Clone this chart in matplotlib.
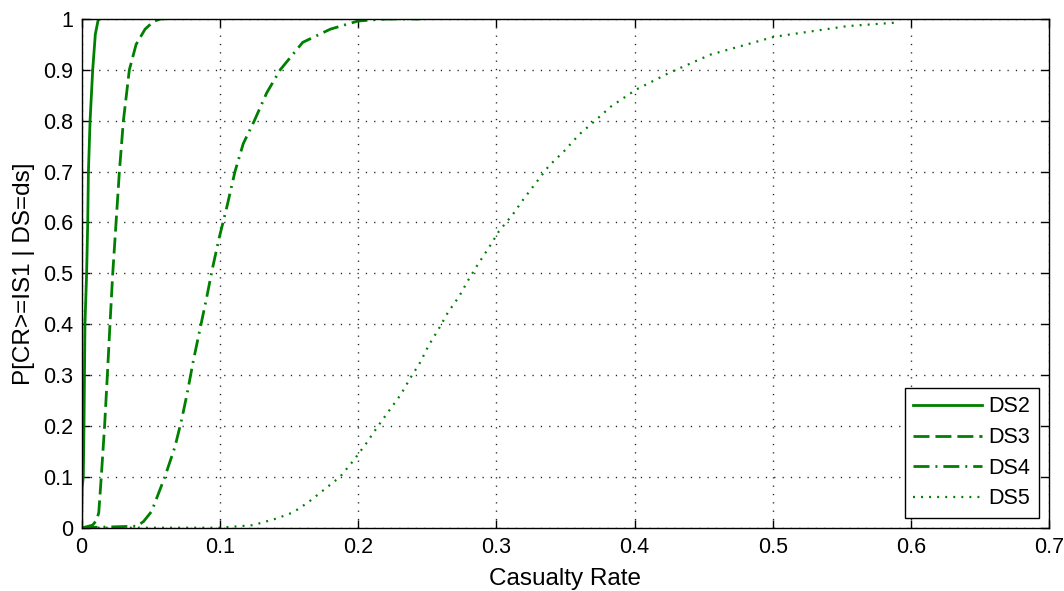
import matplotlib
matplotlib.use("Agg")
import matplotlib.pyplot as plt

plt.rcParams['font.family'] = ['Liberation Sans', 'DejaVu Sans']
plt.rcParams['lines.scale_dashes'] = False

# Empirical CDFs of casualty rate for each damage state
ds2_x = [0, 0.0005, 0.0013, 0.0018, 0.0025, 0.0037, 0.0045, 0.0050, 0.0062, 0.0081, 0.0100, 0.0122, 0.0130]
ds2_y = [0, 0.08, 0.10, 0.20, 0.40, 0.50, 0.60, 0.70, 0.80, 0.90, 0.97, 1.00, 1.00]

ds3_x = [0, 0.001, 0.008, 0.011, 0.0125, 0.0143, 0.0167, 0.0187, 0.0206, 0.0226, 0.0250,
         0.0274, 0.0303, 0.0346, 0.0395, 0.0460, 0.0520, 0.0570, 0.0600]
ds3_y = [0, 0.0, 0.005, 0.015, 0.03, 0.10, 0.20, 0.30, 0.40, 0.50, 0.60,
         0.70, 0.80, 0.90, 0.95, 0.98, 0.995, 1.00, 1.00]

ds4_x = [0, 0.040, 0.0448, 0.0507, 0.0603, 0.0676, 0.0724, 0.0765, 0.0808, 0.0856, 0.0905,
         0.0945, 0.0996, 0.1050, 0.1110, 0.1170, 0.1250, 0.1340, 0.1437, 0.1600, 0.1800,
         0.2000, 0.2200, 0.2450]
ds4_y = [0, 0.003, 0.012, 0.032, 0.10, 0.159, 0.212, 0.265, 0.327, 0.389, 0.452,
         0.507, 0.570, 0.629, 0.700, 0.755, 0.800, 0.855, 0.900, 0.954, 0.980,
         0.996, 1.000, 1.000]

ds5_x = [0, 0.100, 0.110, 0.124, 0.141, 0.153, 0.164, 0.176, 0.187, 0.197, 0.206, 0.214,
         0.223, 0.231, 0.238, 0.245, 0.251, 0.258, 0.265, 0.273, 0.280, 0.287, 0.295,
         0.302, 0.312, 0.320, 0.329, 0.338, 0.349, 0.360, 0.371, 0.383, 0.401, 0.425,
         0.455, 0.501, 0.554, 0.590]
ds5_y = [0, 0.0, 0.002, 0.005, 0.018, 0.030, 0.050, 0.076, 0.100, 0.133, 0.166, 0.198,
         0.232, 0.262, 0.295, 0.325, 0.358, 0.389, 0.423, 0.454, 0.488, 0.519, 0.552,
         0.583, 0.616, 0.647, 0.679, 0.711, 0.740, 0.773, 0.799, 0.828, 0.861, 0.894,
         0.930, 0.965, 0.986, 0.993]

series_labels = ['DS2', 'DS3', 'DS4', 'DS5']
x_ticks = [0, 0.1, 0.2, 0.3, 0.4, 0.5, 0.6, 0.7]
x_tick_labels = ['0', '0.1', '0.2', '0.3', '0.4', '0.5', '0.6', '0.7']
y_ticks = [0, 0.1, 0.2, 0.3, 0.4, 0.5, 0.6, 0.7, 0.8, 0.9, 1.0]
y_tick_labels = ['0', '0.1', '0.2', '0.3', '0.4', '0.5', '0.6', '0.7', '0.8', '0.9', '1']

green = '#008000'

fig = plt.figure(figsize=(10.64, 5.91), dpi=100)
ax = fig.add_axes([0.0766, 0.1071, 0.9096, 0.8608])

lw = 2.0
ax.plot(ds2_x, ds2_y, color=green, lw=lw, linestyle='-', label=series_labels[0])
ax.plot(ds3_x, ds3_y, color=green, lw=lw, linestyle=(0, (11.5, 4.3)), label=series_labels[1])
ax.plot(ds4_x, ds4_y, color=green, lw=lw, linestyle=(0, (11.5, 4.3, 1.4, 4.3)), label=series_labels[2])
ax.plot(ds5_x, ds5_y, color=green, lw=1.6, linestyle=(0, (1.4, 4.4)), label=series_labels[3])

ax.set_xlim(0, 0.7)
ax.set_ylim(0, 1)
ax.set_xticks(x_ticks)
ax.set_xticklabels(x_tick_labels)
ax.set_yticks(y_ticks)
ax.set_yticklabels(y_tick_labels)
ax.tick_params(direction='in', length=6, width=1, top=True, right=True,
               labelsize=15.5, colors='black', pad=7)
ax.tick_params(axis='y', pad=6)
for sp in ax.spines.values():
    sp.set_linewidth(1.0)
    sp.set_color('black')

ax.grid(True, color='#222222', linestyle=(0, (0.9, 5.1)), linewidth=1.0)
ax.set_axisbelow(True)

ax.set_xlabel('Casualty Rate', fontsize=17.5, labelpad=7)
ax.set_ylabel('P[CR>=IS1 | DS=ds]', fontsize=17.5, labelpad=6)

leg = ax.legend(loc='lower right', bbox_to_anchor=(0.9893, 0.019), fontsize=15.5,
                frameon=True, fancybox=False, shadow=False, framealpha=1,
                edgecolor='black', handlelength=3.2, handletextpad=0.3,
                labelspacing=0.45, borderpad=0.4, borderaxespad=0)
leg.get_frame().set_linewidth(1.0)

fig.savefig('out.png', dpi=100)
